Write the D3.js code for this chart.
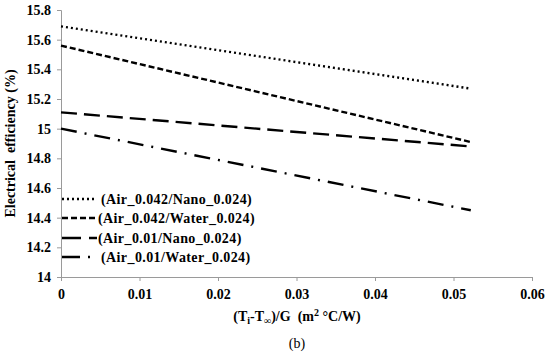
<!DOCTYPE html>
<html>
<head>
<meta charset="utf-8">
<script src="https://cdn.jsdelivr.net/npm/d3@7"></script>
<style>
  body { margin: 0; background: #fff; }
  svg { font-family: "Liberation Serif", "Times New Roman", serif; }
</style>
</head>
<body>
<div id="chart"></div>
<script>
var xValues = [0, 0.0522];
var seriesNames = ["(Air_0.042/Nano_0.024)", "(Air_0.042/Water_0.024)", "(Air_0.01/Nano_0.024)", "(Air_0.01/Water_0.024)"];
var seriesValues = [
  [15.69, 15.27],
  [15.56, 14.91],
  [15.11, 14.88],
  [15.00, 14.45]
];
var dashes = ["2,3", "6,3", "16,7", "16,8,2,8"];
var xTicks = [0, 0.01, 0.02, 0.03, 0.04, 0.05, 0.06];
var yTicks = [14, 14.2, 14.4, 14.6, 14.8, 15, 15.2, 15.4, 15.6, 15.8];

var width = 550, height = 359;
var margin = {left: 61, top: 10, right: 18, bottom: 82};

var svg = d3.select("#chart").append("svg")
  .attr("width", width)
  .attr("height", height);

var x = d3.scaleLinear().domain([0, 0.06]).range([margin.left, width - margin.right]);
var y = d3.scaleLinear().domain([14, 15.8]).range([height - margin.bottom, margin.top]);

// y axis
var yAxis = svg.append("g")
  .attr("transform", "translate(" + margin.left + ",0)")
  .call(d3.axisLeft(y).tickValues(yTicks).tickSize(4).tickFormat(d3.format("")));
// x axis
var xAxis = svg.append("g")
  .attr("transform", "translate(0," + y(14) + ")")
  .call(d3.axisBottom(x).tickValues(xTicks).tickSize(4).tickFormat(function(d) { return d === 0 ? "0" : d3.format(".2f")(d); }));

svg.selectAll(".domain, .tick line").attr("stroke", "#9a9a9a");
svg.selectAll(".tick text")
  .attr("fill", "#000")
  .style("font-size", "14px")
  .style("font-weight", "bold")
  .style("font-family", "'Liberation Serif', serif");
yAxis.selectAll(".tick text").attr("x", -10);
xAxis.selectAll(".tick text").attr("y", 12);

// lines
var line = d3.line()
  .x(function(d, i) { return x(xValues[i]); })
  .y(function(d) { return y(d); });

svg.selectAll(".series")
  .data(seriesValues)
  .enter().append("path")
  .attr("class", "series")
  .attr("d", line)
  .attr("fill", "none")
  .attr("stroke", "#000")
  .attr("stroke-width", 2.4)
  .attr("stroke-dasharray", function(d, i) { return dashes[i]; });

// legend
var legend = svg.append("g");
var ly = [199, 218, 238, 257];
var lx2 = [94, 97, 97, 91];
seriesNames.forEach(function(name, i) {
  legend.append("line")
    .attr("x1", 62).attr("x2", lx2[i])
    .attr("y1", ly[i]).attr("y2", ly[i])
    .attr("stroke", "#000")
    .attr("stroke-width", 2.4)
    .attr("stroke-dasharray", i === 2 ? "19,8" : (i === 3 ? "18,8,2,8" : dashes[i]));
  legend.append("text")
    .attr("x", i === 0 || i === 3 ? 101 : 98)
    .attr("y", ly[i] + 5)
    .style("font-size", "14px")
    .style("font-weight", "bold")
    .style("letter-spacing", "0.4px")
    .text(name);
});

// axis titles
svg.append("text")
  .attr("transform", "translate(15," + ((y(14) + y(15.8)) / 2) + ") rotate(-90)")
  .attr("text-anchor", "middle")
  .style("font-size", "14px")
  .style("font-weight", "bold")
  .style("white-space", "pre")
  .text("Electrical  efficiency (%)");

var xt = svg.append("text")
  .attr("x", 297)
  .attr("y", 321)
  .attr("text-anchor", "middle")
  .style("font-size", "14px")
  .style("font-weight", "bold")
  .style("white-space", "pre");
xt.append("tspan").text("(T");
xt.append("tspan").attr("dy", 3).style("font-size", "10px").text("i");
xt.append("tspan").attr("dy", -3).text("-T");
xt.append("tspan").attr("dy", 3).style("font-size", "10px").text("∞");
xt.append("tspan").attr("dy", -3).text(")/G  (m");
xt.append("tspan").attr("dy", -5).style("font-size", "10px").text("2");
xt.append("tspan").attr("dy", 5).text(" °C/W)");

svg.append("text")
  .attr("x", 297)
  .attr("y", 348)
  .attr("text-anchor", "middle")
  .style("font-size", "14px")
  .text("(b)");
</script>
</body>
</html>
